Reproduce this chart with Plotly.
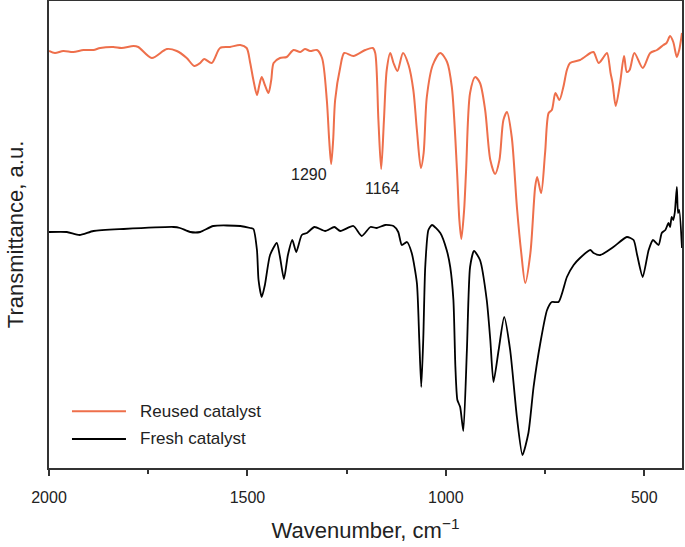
import plotly.graph_objects as go

# Reused catalyst (orange) spectrum: wavenumber (cm-1), transmittance (a.u.)
reused_wn = [2000, 1985, 1964, 1939, 1913, 1888, 1871, 1838, 1817, 1787, 1775, 1741, 1703, 1678,
             1653, 1634, 1619, 1609, 1590, 1569, 1544, 1518, 1502, 1493, 1485, 1476, 1470, 1464,
             1456, 1447, 1440, 1434, 1418, 1401, 1384, 1367, 1355, 1342, 1325, 1312, 1300, 1294,
             1289, 1284, 1279, 1266, 1256, 1233, 1203, 1184, 1178, 1170, 1163, 1156, 1149, 1140,
             1132, 1122, 1108, 1094, 1082, 1073, 1063, 1056, 1048, 1033, 1014, 997, 985, 972, 966,
             961, 954, 949, 939, 926, 914, 901, 888, 876, 865, 855, 846, 834, 821, 810, 800, 787,
             775, 770, 760, 750, 741, 733, 724, 714, 704, 695, 687, 662, 636, 628, 615, 604, 594,
             585, 580, 572, 561, 551, 544, 537, 525, 504, 485, 468, 452, 444, 435, 427, 418, 412, 405]
reused_t = [415, 413, 415, 414, 416, 416, 418, 419, 418, 420, 419, 408, 417, 415,
            408, 400, 403, 407, 403, 418, 419, 421, 418, 403, 386, 371, 381, 389,
            381, 373, 386, 403, 408, 409, 416, 414, 417, 415, 416, 408, 366, 326,
            302, 326, 366, 399, 413, 410, 416, 418, 413, 346, 297, 346, 396, 413,
            403, 395, 413, 401, 376, 336, 298, 313, 369, 401, 413, 404, 379, 296, 246,
            227, 256, 296, 373, 389, 383, 356, 306, 292, 306, 346, 354, 329, 259, 213, 183, 213,
            279, 289, 273, 313, 353, 356, 373, 366, 379, 396, 403, 406, 413, 414, 403, 408, 413,
            393, 383, 360, 383, 410, 394, 396, 413, 398, 413, 416, 421, 423, 430, 424, 409, 416, 433]

# Fresh catalyst (black) spectrum
fresh_wn = [2000, 1955, 1923, 1888, 1812, 1686, 1670, 1644, 1619, 1586, 1518, 1493, 1485, 1476,
            1472, 1464, 1456, 1443, 1426, 1418, 1408, 1398, 1387, 1377, 1363, 1350, 1331, 1304,
            1281, 1266, 1233, 1212, 1190, 1174, 1153, 1132, 1120, 1111, 1098, 1086, 1073, 1067,
            1062, 1057, 1052, 1044, 1035, 1014, 998, 989, 981, 976, 971, 964, 956, 947, 939, 929,
            914, 897, 888, 880, 867, 853, 838, 821, 807, 792, 779, 762, 745, 733, 716, 695, 678,
            662, 636, 628, 611, 578, 544, 527, 518, 504, 489, 478, 464, 456, 447, 439, 435, 431,
            427, 423, 418, 415, 412, 405]
fresh_t = [234, 234, 231, 235, 237, 239, 238, 234, 234, 240, 240, 238, 237, 216,
           186, 169, 181, 211, 223, 209, 187, 211, 226, 214, 231, 233, 239, 235,
           239, 235, 240, 230, 239, 238, 241, 240, 234, 221, 224, 213, 183, 126,
           79, 126, 199, 236, 241, 233, 216, 199, 166, 99, 66, 59, 35, 116, 199, 215,
           206, 166, 126, 84, 116, 149, 116, 49, 11, 33, 79, 123, 156, 164, 164, 189, 201,
           208, 216, 213, 211, 219, 229, 226, 211, 189, 216, 226, 221, 233, 236, 243, 239, 249,
           246, 254, 279, 253, 256, 218]

x_ticks = [2000, 1500, 1000, 500]
x_tick_labels = ["2000", "1500", "1000", "500"]
series_names = ["Reused catalyst", "Fresh catalyst"]
peak_labels = ["1290", "1164"]
peak_label_x = [1345, 1159]
peak_label_y = [292, 278]

ORANGE = "#EE6F4B"
BLACK = "#000000"
FONT = "Arial, Liberation Sans, sans-serif"

fig = go.Figure()
fig.add_trace(go.Scatter(x=reused_wn, y=reused_t, mode="lines", name=series_names[0],
                         line=dict(color=ORANGE, width=2, shape="spline", smoothing=0.8),
                         showlegend=False))
fig.add_trace(go.Scatter(x=fresh_wn, y=fresh_t, mode="lines", name=series_names[1],
                         line=dict(color=BLACK, width=1.8, shape="spline", smoothing=0.6),
                         showlegend=False))

# peak annotations
for txt, px, py in zip(peak_labels, peak_label_x, peak_label_y):
    fig.add_annotation(x=px, y=py, text=txt, showarrow=False,
                       font=dict(family=FONT, size=16, color="#222"))

# legend drawn as line samples + labels
leg_y = [0.1215, 0.0621]
leg_col = [ORANGE, BLACK]
for name, yy, col in zip(series_names, leg_y, leg_col):
    fig.add_shape(type="line", xref="paper", yref="paper", x0=0.0363, x1=0.1216, y0=yy, y1=yy,
                  line=dict(color=col, width=2))
    fig.add_annotation(xref="paper", yref="paper", x=0.1406, y=yy, text=name, showarrow=False,
                       xanchor="left", yanchor="middle",
                       font=dict(family=FONT, size=17, color="#222"))

fig.update_layout(
    width=685, height=547,
    margin=dict(l=49, r=3, t=1, b=79),
    paper_bgcolor="white", plot_bgcolor="white",
    font=dict(family=FONT, color="#222"),
    xaxis=dict(range=[2000, 405], tickvals=x_ticks, ticktext=x_tick_labels,
               ticks="outside", ticklen=6, tickwidth=1.5, tickcolor="#333",
               ticklabelstandoff=8,
               minor=dict(tickvals=[1750, 1250, 750], ticks="outside", ticklen=4, tickwidth=1.5,
                          tickcolor="#333"),
               showline=True, linecolor="#333", linewidth=1.5, mirror=True,
               showgrid=False, zeroline=False, automargin=False,
               tickfont=dict(family=FONT, size=16, color="#222"),
               title=dict(text="Wavenumber, cm<sup>−1</sup>", standoff=18,
                          font=dict(family=FONT, size=22, color="#222"))),
    yaxis=dict(range=[-2, 465], showticklabels=False, ticks="",
               showline=True, linecolor="#333", linewidth=1.5, mirror=True,
               showgrid=False, zeroline=False, automargin=False,
               title=dict(text="Transmittance, a.u.", standoff=18,
                          font=dict(family=FONT, size=22, color="#222"))),
)

# remove the browser's default 8px body margin so the figure fills the window
fig.write_html("out.html",
               config={"displayModeBar": False},
               post_script="document.body.style.margin='0';document.body.style.overflow='hidden';")
